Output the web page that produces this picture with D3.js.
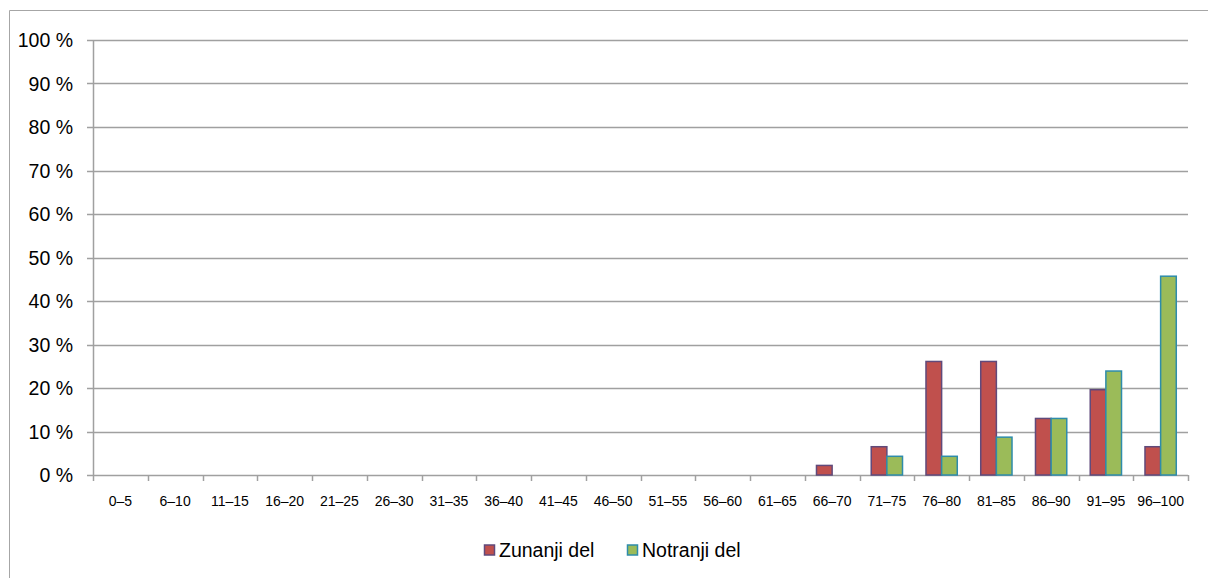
<!DOCTYPE html>
<html>
<head>
<meta charset="utf-8">
<script src="https://cdn.jsdelivr.net/npm/d3@7"></script>
<style>
  body { margin: 0; background: #fff; }
  svg { display: block; font-family: Arial, "Liberation Sans", sans-serif; }
</style>
</head>
<body>
<div id="chart"></div>
<script>
// categories and series values (percent)
const categories = ["0–5", "6–10", "11–15", "16–20", "21–25", "26–30", "31–35", "36–40", "41–45", "46–50",
  "51–55", "56–60", "61–65", "66–70", "71–75", "76–80", "81–85", "86–90", "91–95", "96–100"];
const zunanji = [0, 0, 0, 0, 0, 0, 0, 0, 0, 0, 0, 0, 0, 2.2, 6.5, 26.1, 26.1, 13.0, 19.6, 6.5];
const notranji = [0, 0, 0, 0, 0, 0, 0, 0, 0, 0, 0, 0, 0, 0, 4.3, 4.3, 8.7, 13.0, 23.9, 45.7];
const seriesNames = ["Zunanji del", "Notranji del"];
const yTicks = [0, 10, 20, 30, 40, 50, 60, 70, 80, 90, 100];

const fills = ["#c0504d", "#9bbb59"];
const strokes = ["#604a7b", "#2e8cab"];

const W = 1208, H = 578;
const margin = { left: 93, right: 20, top: 40, bottom: 103 };
const width = W - margin.left - margin.right;
const height = H - margin.top - margin.bottom;

const svg = d3.select("#chart").append("svg")
    .attr("width", W)
    .attr("height", H);

// outer chart border (left and top visible)
svg.append("path")
    .attr("d", "M9.5," + H + " V10.5 H" + W)
    .attr("fill", "none")
    .attr("stroke", "#a6a6a6")
    .attr("stroke-width", 1);

const g = svg.append("g")
    .attr("transform", "translate(" + margin.left + "," + margin.top + ")");

const x = d3.scaleBand().domain(categories).range([0, width]).padding(0);
const x1 = d3.scaleBand().domain(seriesNames).range([0, x.bandwidth()])
    .paddingInner(0).paddingOuter(0.75);
const y = d3.scaleLinear().domain([0, 100]).range([height, 0]);

// gridlines
g.selectAll("line.grid")
  .data(yTicks)
  .enter()
  .append("line")
    .attr("class", "grid")
    .attr("x1", -6)
    .attr("x2", width)
    .attr("y1", d => Math.round(y(d)) + 0.5)
    .attr("y2", d => Math.round(y(d)) + 0.5)
    .attr("stroke", "#a0a0a0")
    .attr("stroke-width", 1.5);

// y axis line
g.append("line")
    .attr("x1", 0.5).attr("x2", 0.5)
    .attr("y1", 0).attr("y2", height)
    .attr("stroke", "#a0a0a0")
    .attr("stroke-width", 1.5);

// y labels
g.selectAll("text.ylab")
  .data(yTicks)
  .enter()
  .append("text")
    .attr("class", "ylab")
    .attr("x", -20)
    .attr("y", d => y(d))
    .attr("dy", "0.36em")
    .attr("text-anchor", "end")
    .attr("font-size", 19.5)
    .attr("fill", "#000")
    .text(d => d + " %");

// x tick marks at category boundaries
const bounds = categories.map(c => x(c)).concat([width]);
g.selectAll("line.xtick")
  .data(bounds)
  .enter()
  .append("line")
    .attr("class", "xtick")
    .attr("x1", d => Math.round(d) + 0.5)
    .attr("x2", d => Math.round(d) + 0.5)
    .attr("y1", height)
    .attr("y2", height + 6)
    .attr("stroke", "#a0a0a0")
    .attr("stroke-width", 1.5);

// x labels
g.selectAll("text.xlab")
  .data(categories)
  .enter()
  .append("text")
    .attr("class", "xlab")
    .attr("x", d => x(d) + x.bandwidth() / 2)
    .attr("y", height + 31)
    .attr("text-anchor", "middle")
    .attr("font-size", 14)
    .attr("fill", "#000")
    .text(d => d);

// bars
const rows = categories.map((c, i) => ({ cat: c, vals: [zunanji[i], notranji[i]] }));
const groups = g.selectAll("g.cat")
  .data(rows)
  .enter()
  .append("g")
    .attr("class", "cat")
    .attr("transform", d => "translate(" + x(d.cat) + ",0)");

groups.selectAll("rect")
  .data(d => d.vals.map((v, k) => ({ v: v, k: k })).filter(e => e.v > 0))
  .enter()
  .append("rect")
    .attr("x", d => x1(seriesNames[d.k]))
    .attr("y", d => y(d.v))
    .attr("width", x1.bandwidth())
    .attr("height", d => height - y(d.v))
    .attr("fill", d => fills[d.k])
    .attr("stroke", d => strokes[d.k])
    .attr("stroke-width", 1.5);

// legend
const legend = svg.append("g").attr("transform", "translate(484,550)");
const legendX = [0, 143];
seriesNames.forEach((name, k) => {
  const item = legend.append("g").attr("transform", "translate(" + legendX[k] + ",0)");
  item.append("rect")
      .attr("x", 0.5).attr("y", -5)
      .attr("width", 10).attr("height", 10)
      .attr("fill", fills[k])
      .attr("stroke", strokes[k])
      .attr("stroke-width", 1.5);
  item.append("text")
      .attr("x", 15)
      .attr("y", 0)
      .attr("dy", "0.36em")
      .attr("font-size", 19.5)
      .attr("fill", "#000")
      .text(name);
});
</script>
</body>
</html>
